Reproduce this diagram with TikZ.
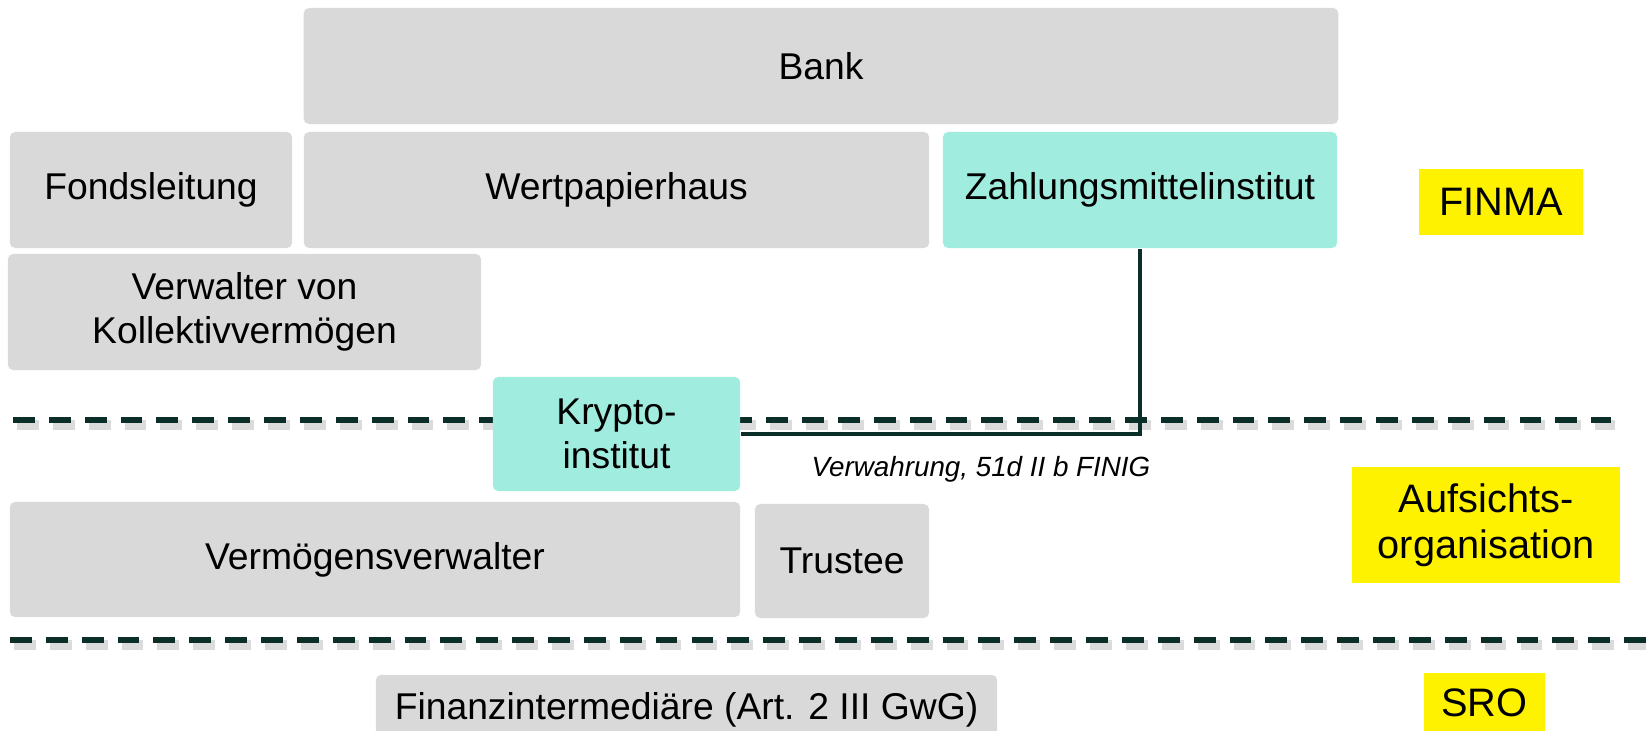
\documentclass[tikz,border=0pt]{standalone}
\usepackage{fontspec}
\setmainfont{Liberation Sans}

\definecolor{boxgray}{HTML}{D9D9D9}
\definecolor{mint}{HTML}{A0EDDF}
\definecolor{linegreen}{HTML}{0B2E29}

\begin{document}
\begin{tikzpicture}[x = 0.01cm, y = -0.01cm,
	box/.style = {fill = boxgray, rounded corners = 1.5pt, inner sep = 0pt, align = center, font = \fontsize{10.6}{12.6}\selectfont},
	mintbox/.style = {box, fill = mint},
	authority/.style = {fill = yellow, inner sep = 0pt, align = center, font = \fontsize{11.3}{13}\selectfont},
	separator/.style = {line width = 1.5pt, linegreen, dash pattern = on 6.2pt off 4pt},
	shade/.style = {line width = 2.6pt, black!14, dash pattern = on 6.2pt off 4pt}]

	\clip (0, 0) rectangle (1646, 731);

	% Separators between the supervision levels
	
	\draw [shade] (17, 425) -- (1615, 425);
	\draw [separator] (13, 420) -- (1611, 420);
	
	\draw [shade] (14, 645) -- (1650, 645);
	\draw [separator] (10, 640) -- (1646, 640);
	
	% Institutions under FINMA
	
	\node [box, minimum width = 10.34cm, minimum height = 1.16cm] (bank) at (821, 66) {Bank};
	\node [box, minimum width = 2.82cm, minimum height = 1.16cm] (fonds) at (151, 190) {Fondsleitung};
	\node [box, minimum width = 6.25cm, minimum height = 1.16cm] (wph) at (616.5, 190) {Wertpapierhaus};
	\node [mintbox, minimum width = 3.94cm, minimum height = 1.16cm] (zml) at (1140, 190) {Zahlungsmittelinstitut};
	\node [box, minimum width = 4.73cm, minimum height = 1.16cm] (vkv) at (244.5, 312) {Verwalter von\\Kollektivvermögen};
	\node [mintbox, minimum width = 2.47cm, minimum height = 1.14cm] (krypto) at (616.5, 434) {Krypto-\\institut};
	
	% Institutions under an Aufsichtsorganisation
	
	\node [box, minimum width = 7.30cm, minimum height = 1.15cm] (vv) at (375, 559.5) {Vermögensverwalter};
	\node [box, minimum width = 1.74cm, minimum height = 1.14cm] (trustee) at (842, 561) {Trustee};
	
	% Institutions under an SRO
	
	\node [box, minimum width = 6.21cm, minimum height = 0.70cm] (fi) at (686.5, 710) {Finanzintermediäre (Art. 2 III GwG)};
	
	% Link for custody
	
	\draw [line width = 1.4pt, linegreen] (zml.south) |- (krypto.east);
	\node [font = \fontsize{7.9}{9}\selectfont\itshape] (verw) at (981, 469) {Verwahrung, 51d II b FINIG};
	
	% Supervisors
	
	\node [authority, minimum width = 1.64cm, minimum height = 0.66cm] (finma) at (1501, 202) {FINMA};
	\node [authority, minimum width = 2.68cm, minimum height = 1.16cm] (ao) at (1486, 525) {Aufsichts-\\organisation};
	\node [authority, minimum width = 1.21cm, minimum height = 0.60cm] (sro) at (1484.5, 703) {SRO};

\end{tikzpicture}
\end{document}
